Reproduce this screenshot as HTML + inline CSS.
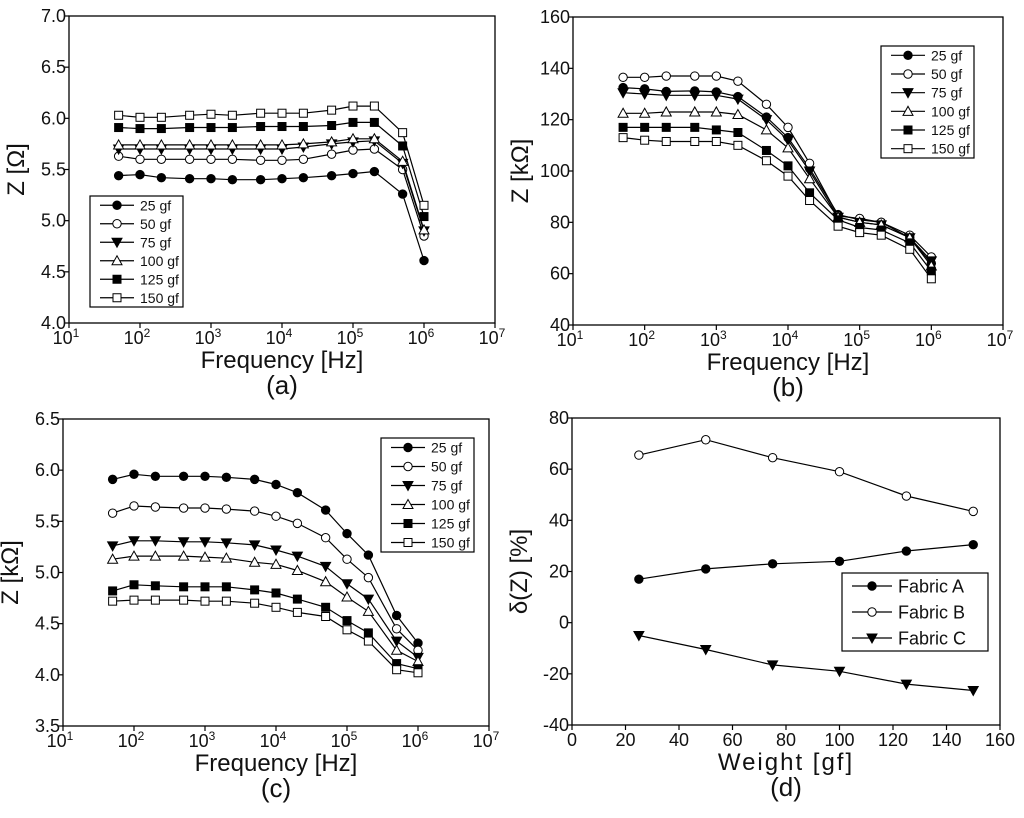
<!DOCTYPE html>
<html><head><meta charset="utf-8"><style>
body{margin:0;background:#fff}
svg{display:block;font-family:"Liberation Sans",Arial,sans-serif}
</style></head><body>
<svg id="fig" width="1024" height="818" viewBox="0 0 1024 818" xmlns="http://www.w3.org/2000/svg"></svg>
<script>
// shared data
const freqs = [50,100,200,500,1e3,2e3,5e3,1e4,2e4,5e4,1e5,2e5,5e5,1e6];
const loadLabels = ["25 gf","50 gf","75 gf","100 gf","125 gf","150 gf"];
// panel (a) Z [Ω]
const a25 = [5.44,5.45,5.42,5.41,5.41,5.40,5.40,5.41,5.42,5.44,5.46,5.48,5.26,4.61];
const a50 = [5.63,5.60,5.60,5.60,5.60,5.60,5.59,5.59,5.60,5.65,5.69,5.70,5.50,4.85];
const a75 = [5.70,5.70,5.70,5.70,5.70,5.70,5.70,5.70,5.72,5.75,5.77,5.78,5.56,4.90];
const a100 = [5.74,5.74,5.74,5.74,5.74,5.74,5.74,5.74,5.75,5.77,5.80,5.80,5.58,4.91];
const a125 = [5.91,5.90,5.90,5.91,5.91,5.91,5.92,5.92,5.92,5.93,5.96,5.96,5.73,5.04];
const a150 = [6.03,6.01,6.01,6.03,6.04,6.03,6.05,6.05,6.05,6.08,6.12,6.12,5.86,5.15];
const aTicks = ["4.0","4.5","5.0","5.5","6.0","6.5","7.0"];
// panel (b) Z [kΩ]
const b25 = [132.5,132,131,131.2,130.8,129,121,113,101,83,81,80,74,64];
const b50 = [136.5,136.5,137,137,137,135,126,117,103,82.5,81.5,80,75,66.5];
const b75 = [130.5,130,129.5,129.5,129.5,128,120,112,100,82,80,79,74,65];
const b100 = [122.5,122.5,123,123,123,122,116,109,97,82,80,79,74,63];
const b125 = [117,117,117,117,116,115,108,102,91.5,81,78,77,72,61];
const b150 = [113,112,111.5,111.5,111.5,110,104,98,88.5,78.5,76,75,69.5,58];
const bTicks = ["40","60","80","100","120","140","160"];
// panel (c) Z [kΩ]
const c25 = [5.91,5.96,5.94,5.94,5.94,5.93,5.91,5.86,5.78,5.61,5.38,5.17,4.58,4.31];
const c50 = [5.58,5.65,5.64,5.63,5.63,5.62,5.60,5.55,5.48,5.34,5.13,4.95,4.45,4.24];
const c75 = [5.26,5.31,5.31,5.30,5.30,5.29,5.27,5.22,5.16,5.06,4.89,4.74,4.33,4.17];
const c100 = [5.13,5.16,5.16,5.16,5.15,5.14,5.10,5.08,5.02,4.91,4.76,4.62,4.24,4.13];
const c125 = [4.82,4.88,4.87,4.86,4.86,4.86,4.83,4.80,4.74,4.66,4.53,4.41,4.11,4.06];
const c150 = [4.72,4.73,4.73,4.73,4.72,4.72,4.70,4.66,4.61,4.57,4.44,4.33,4.05,4.02];
const cTicks = ["3.5","4.0","4.5","5.0","5.5","6.0","6.5"];
// panel (d)
const weights = [25,50,75,100,125,150];
const fabricA = [17,21,23,24,28,30.5];
const fabricB = [65.5,71.5,64.5,59,49.5,43.5];
const fabricC = [-5,-10.5,-16.5,-19,-24,-26.5];
const fabricLabels = ["Fabric A","Fabric B","Fabric C"];
const dYTicks = ["-40","-20","0","20","40","60","80"];
const dXTicks = ["0","20","40","60","80","100","120","140","160"];
const logExps = ["1","2","3","4","5","6","7"];

const NS="http://www.w3.org/2000/svg";
const svg=document.getElementById('fig');
function mk(tag,attrs,parent,text){const e=document.createElementNS(NS,tag);for(const k in attrs)e.setAttribute(k,attrs[k]);if(text!==undefined)e.textContent=text;(parent||svg).appendChild(e);return e;}
const markers=["fcircle","ocircle","ftri","otri","fsq","osq"];
function marker(g,type,x,y){
  const fill=type[0]==='f'?'#000':'#fff';const s=type.slice(1);let m;
  if(s==='circle')m=mk('circle',{cx:x,cy:y,r:4.2,fill:fill,stroke:'#000','stroke-width':1},g);
  else if(s==='sq')m=mk('rect',{x:x-4,y:y-4,width:8,height:8,fill:fill,stroke:'#000','stroke-width':1},g);
  else if(s==='tri'){const up=type[0]==='o';const p=up?`${x-5},${y+4} ${x+5},${y+4} ${x},${y-5}`:`${x-5},${y-4} ${x+5},${y-4} ${x},${y+5}`;m=mk('polygon',{points:p,fill:fill,stroke:'#000','stroke-width':1},g);}
  
  
}
function panel(o){
  const g=mk('g',{},svg);
  
  
  const {L,R,T,B}=o;
  const xs=o.xlog?(v=>L+(Math.log10(v)-1)/6*(R-L)):(v=>L+(v-o.xmin)/(o.xmax-o.xmin)*(R-L));
  const ys=v=>B-(v-o.ymin)/(o.ymax-o.ymin)*(B-T);
  const box=mk('rect',{x:L,y:T,width:R-L,height:B-T,fill:'none',stroke:'#000','stroke-width':1.3},g);
  
  o.yticks.forEach((t,i)=>{const y=B-i*(B-T)/(o.yticks.length-1);
    mk('line',{x1:L-5,x2:L,y1:y,y2:y,stroke:'#000','stroke-width':1.2},g);
    const tx=mk('text',{x:L-3,y:y+6,'font-size':18,'text-anchor':'end',fill:'#111'},g,t);
    });
  const nx=o.xlog?logExps.length:o.xticks.length;
  for(let i=0;i<nx;i++){const x=L+i*(R-L)/(nx-1);
    mk('line',{x1:x,x2:x,y1:B,y2:B+5,stroke:'#000','stroke-width':1.2},g);
    let tx;
    if(o.xlog){tx=mk('text',{x:x-3,y:B+21,'font-size':18,'text-anchor':'middle',fill:'#111'},g,'10');
      mk('tspan',{dy:-7,'font-size':12},tx,logExps[i]);}
    else tx=mk('text',{x:x,y:B+21,'font-size':18,'text-anchor':'middle',fill:'#111'},g,o.xticks[i]);
    }
  const xt=mk('text',{x:(L+R)/2,y:B+45,'font-size':24,'text-anchor':'middle',fill:'#111','letter-spacing':o.xls||0},g,o.xtitle);
  
  const yt=mk('text',{x:0,y:0,'font-size':24,'text-anchor':'middle',fill:'#111',transform:`translate(${L-45},${(T+B)/2}) rotate(-90)`},g,o.ytitle);
  
  const pl=mk('text',{x:(L+R)/2,y:B+71,'font-size':26,'text-anchor':'middle',fill:'#111'},g,o.plabel);
  
  o.series.forEach((s,si)=>{
    const pts=s.map((v,i)=>xs(o.x[i]).toFixed(1)+','+ys(v).toFixed(1)).join(' ');
    const ln=mk('polyline',{points:pts,fill:'none',stroke:'#000','stroke-width':1.2},g);
    
    s.forEach((v,i)=>marker(g,o.mk[si],xs(o.x[i]),ys(v)));
  });
  const lg=mk('g',{},g);
  
  const lb=o.leg;
  mk('rect',{x:lb.x,y:lb.y,width:lb.w,height:lb.h,fill:'#fff',stroke:'#000','stroke-width':1.2},lg);
  const n=o.labels.length;const rh=lb.h/n;
  o.labels.forEach((t,i)=>{const y=lb.y+rh*(i+0.5);
    const e=mk('g',{},lg);
    
    mk('line',{x1:lb.x+10,x2:lb.x+lb.ll,y1:y,y2:y,stroke:'#000','stroke-width':1.2},e);
    marker(e,o.mk[i],lb.x+10+(lb.ll-10)/2,y);
    mk('text',{x:lb.x+lb.ll+6,y:y+lb.fs*0.36,'font-size':lb.fs,fill:'#111'},e,t);});
}
const mk6=markers;
panel({name:'panel-a',L:69,R:495,T:16,B:323,xlog:true,ymin:4,ymax:7,yticks:aTicks,x:freqs,
  series:[a25,a50,a75,a100,a125,a150],mk:mk6,labels:loadLabels,xtitle:'Frequency [Hz]',ytitle:'Z [Ω]',plabel:'(a)',
  leg:{x:90,y:196,w:93,h:111,ll:44,fs:14}});
panel({name:'panel-b',L:573,R:1003,T:17,B:325,xlog:true,ymin:40,ymax:160,yticks:bTicks,x:freqs,
  series:[b25,b50,b75,b100,b125,b150],mk:mk6,labels:loadLabels,xtitle:'Frequency [Hz]',ytitle:'Z [kΩ]',plabel:'(b)',
  leg:{x:881,y:46,w:93,h:112,ll:44,fs:14}});
panel({name:'panel-c',L:63,R:489,T:419,B:726,xlog:true,ymin:3.5,ymax:6.5,yticks:cTicks,x:freqs,
  series:[c25,c50,c75,c100,c125,c150],mk:mk6,labels:loadLabels,xtitle:'Frequency [Hz]',ytitle:'Z [kΩ]',plabel:'(c)',
  leg:{x:381,y:438,w:93,h:114,ll:44,fs:14}});
panel({name:'panel-d',L:572,R:1000,T:418,B:725,xlog:false,xmin:0,xmax:160,xticks:dXTicks,ymin:-40,ymax:80,yticks:dYTicks,x:weights,
  series:[fabricA,fabricB,fabricC],mk:["fcircle","ocircle","ftri"],labels:fabricLabels,xtitle:'Weight [gf]',xls:2,ytitle:'δ(Z) [%]',plabel:'(d)',
  leg:{x:842,y:573,w:146,h:78,ll:50,fs:18}});
</script>
</body></html>
